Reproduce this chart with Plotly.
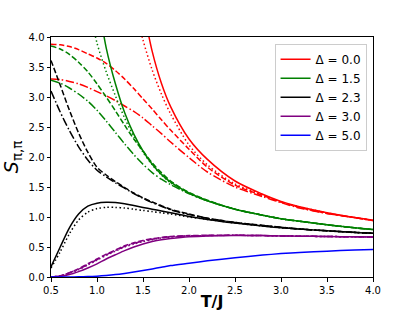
import plotly.graph_objects as go

T = [0.5, 0.6, 0.7, 0.8, 0.9, 1.0, 1.1, 1.2, 1.3, 1.4, 1.5, 1.6, 1.7, 1.8, 2.0, 2.2, 2.5, 2.8, 3.0, 3.2, 3.5, 3.8, 4.0]
N = None

# Delta = 0.0 (red)
red_solid   = [N, N, N, N, N, N, N, N, N, N, 4.50, 3.76, 3.23, 2.84, 2.30, 1.96, 1.60, 1.38, 1.26, 1.17, 1.07, 0.99, 0.945]
red_dot     = [N, N, N, N, N, N, N, N, N, 4.60, 3.95, 3.45, 3.05, 2.72, 2.20, 1.87, 1.55, 1.37, 1.25, 1.17, 1.07, 0.99, 0.945]
red_dash    = [3.88, 3.87, 3.84, 3.79, 3.72, 3.65, 3.56, 3.44, 3.30, 3.14, 2.97, 2.80, 2.62, 2.45, 2.13, 1.83, 1.53, 1.36, 1.25, 1.16, 1.06, 0.99, 0.94]
red_dashdot = [3.30, 3.29, 3.26, 3.22, 3.16, 3.09, 3.02, 2.94, 2.85, 2.76, 2.65, 2.52, 2.39, 2.25, 1.99, 1.75, 1.50, 1.34, 1.24, 1.15, 1.06, 0.99, 0.94]

# Delta = 1.5 (green)
green_solid   = [N, N, N, N, N, 4.70, 3.82, 3.22, 2.74, 2.38, 2.10, 1.88, 1.71, 1.58, 1.40, 1.27, 1.13, 1.03, 0.97, 0.93, 0.87, 0.82, 0.79]
green_dot     = [N, N, N, N, 4.60, 3.90, 3.42, 3.02, 2.65, 2.34, 2.08, 1.87, 1.70, 1.57, 1.39, 1.27, 1.13, 1.03, 0.97, 0.93, 0.87, 0.82, 0.79]
green_dash    = [3.85, 3.80, 3.71, 3.58, 3.42, 3.22, 3.00, 2.77, 2.53, 2.30, 2.10, 1.90, 1.74, 1.60, 1.41, 1.28, 1.13, 1.03, 0.97, 0.93, 0.87, 0.82, 0.79]
green_dashdot = [3.28, 3.23, 3.15, 3.05, 2.93, 2.78, 2.60, 2.41, 2.22, 2.04, 1.88, 1.74, 1.63, 1.54, 1.39, 1.27, 1.13, 1.03, 0.97, 0.93, 0.87, 0.82, 0.79]

# Delta = 2.3 (black)
black_solid   = [0.17, 0.50, 0.82, 1.05, 1.18, 1.23, 1.245, 1.24, 1.22, 1.19, 1.16, 1.13, 1.10, 1.07, 1.01, 0.96, 0.90, 0.85, 0.82, 0.80, 0.77, 0.74, 0.73]
black_dot     = [0.15, 0.42, 0.72, 0.95, 1.08, 1.14, 1.16, 1.16, 1.15, 1.13, 1.11, 1.09, 1.07, 1.05, 1.00, 0.96, 0.90, 0.85, 0.82, 0.80, 0.77, 0.74, 0.73]
black_dash    = [3.61, 3.20, 2.78, 2.40, 2.08, 1.83, 1.70, 1.59, 1.49, 1.40, 1.32, 1.25, 1.19, 1.13, 1.05, 0.98, 0.91, 0.86, 0.83, 0.80, 0.77, 0.745, 0.73]
black_dashdot = [3.10, 2.75, 2.44, 2.17, 1.95, 1.78, 1.67, 1.57, 1.48, 1.39, 1.31, 1.24, 1.18, 1.12, 1.04, 0.98, 0.91, 0.86, 0.83, 0.80, 0.77, 0.745, 0.73]

# Delta = 3.0 (purple)
purple_solid   = [0.0, 0.01, 0.04, 0.09, 0.15, 0.22, 0.30, 0.37, 0.44, 0.50, 0.55, 0.59, 0.62, 0.64, 0.67, 0.685, 0.69, 0.69, 0.685, 0.68, 0.675, 0.67, 0.665]
purple_dot     = [0.0, 0.02, 0.06, 0.12, 0.20, 0.28, 0.36, 0.43, 0.50, 0.55, 0.59, 0.62, 0.65, 0.665, 0.685, 0.69, 0.695, 0.69, 0.685, 0.68, 0.675, 0.67, 0.665]
purple_dash    = [0.0, 0.02, 0.07, 0.14, 0.22, 0.30, 0.38, 0.45, 0.52, 0.57, 0.61, 0.64, 0.66, 0.675, 0.69, 0.695, 0.695, 0.69, 0.685, 0.68, 0.675, 0.67, 0.665]
purple_dashdot = [0.0, 0.02, 0.07, 0.13, 0.21, 0.29, 0.37, 0.44, 0.51, 0.56, 0.60, 0.63, 0.655, 0.67, 0.685, 0.69, 0.695, 0.69, 0.685, 0.68, 0.675, 0.67, 0.665]

# Delta = 5.0 (blue)
blue_solid = [0.0, 0.0, 0.001, 0.003, 0.007, 0.014, 0.025, 0.04, 0.06, 0.083, 0.108, 0.135, 0.162, 0.19, 0.23, 0.27, 0.32, 0.365, 0.39, 0.41, 0.43, 0.45, 0.46]

legend_labels = ["Δ = 0.0", "Δ = 1.5", "Δ = 2.3", "Δ = 3.0", "Δ = 5.0"]
colors = ["#ff0000", "#008000", "#000000", "#800080", "#0000ff"]

DASH = {"solid": "solid", "dot": "1.5px,2.5px", "dash": "5.5px,2.4px", "dashdot": "8.5px,2.4px,1.5px,2.4px"}

groups = [
    (red_solid, red_dot, red_dash, red_dashdot),
    (green_solid, green_dot, green_dash, green_dashdot),
    (black_solid, black_dot, black_dash, black_dashdot),
    (purple_solid, purple_dot, purple_dash, purple_dashdot),
    (blue_solid, None, None, None),
]

fig = go.Figure()
for i, (g, lab, col) in enumerate(zip(groups, legend_labels, colors)):
    for j, style in enumerate(["solid", "dot", "dash", "dashdot"]):
        ys = g[j]
        if ys is None:
            continue
        fig.add_trace(go.Scatter(
            x=T, y=ys, mode="lines", name=lab,
            line=dict(color=col, width=1.5, dash=DASH[style], shape="spline", smoothing=0.8),
            showlegend=(style == "solid"), legendrank=i + 1,
        ))

fig.update_layout(
    width=415, height=311,
    margin=dict(l=51, r=42, t=37, b=34, autoexpand=False),
    paper_bgcolor="white", plot_bgcolor="white",
    font=dict(family="DejaVu Sans", color="black", size=10),
    legend=dict(
        x=0.98, y=0.972, xanchor="right", yanchor="top",
        bgcolor="rgba(255,255,255,0.8)", bordercolor="#cccccc", borderwidth=1,
        font=dict(size=12, family="DejaVu Sans"), tracegroupgap=0, itemwidth=30,
    ),
)
fig.update_xaxes(
    range=[0.5, 4.0], tickvals=[0.5, 1.0, 1.5, 2.0, 2.5, 3.0, 3.5, 4.0], tickformat=".1f",
    showline=True, linecolor="black", linewidth=1, mirror=True, automargin=False,
    ticks="outside", ticklen=3.5, tickcolor="black", showgrid=False, zeroline=False,
    title=dict(text="<b>T/J</b>", font=dict(size=16), standoff=3),
)
fig.update_yaxes(
    range=[0, 4.0], tickvals=[0, 0.5, 1.0, 1.5, 2.0, 2.5, 3.0, 3.5, 4.0], tickformat=".1f",
    showline=True, linecolor="black", linewidth=1, mirror=True, automargin=False,
    ticks="outside", ticklen=3.5, tickcolor="black", showgrid=False, zeroline=False,
    title=dict(text="<i>S</i><sub>π,π</sub>", font=dict(size=19), standoff=6),
)

fig.write_html("out.html", config={"displayModeBar": False},
               post_script="document.body.style.margin='0px';")
